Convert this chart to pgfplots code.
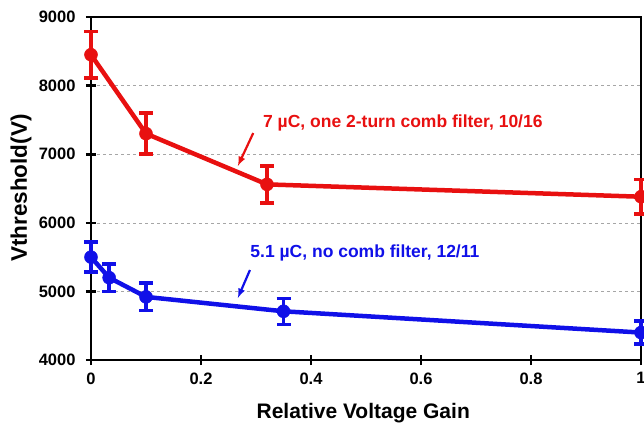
\documentclass[border=0pt]{standalone}
\usepackage{pgfplots}
\pgfplotsset{compat=1.18}
\usepackage{fontspec}
\setmainfont{Liberation Sans}
\definecolor{myred}{RGB}{232,16,16}
\definecolor{myblue}{RGB}{16,16,232}
\begin{document}
\begin{tikzpicture}
\path[use as bounding box] (-91pt,-63pt) rectangle (553pt,360pt);
\begin{axis}[
  scale only axis, width=550pt, height=343pt,
  xmin=0, xmax=1, ymin=4000, ymax=9000,
  xtick={0,0.2,0.4,0.6,0.8,1}, ytick={4000,5000,6000,7000,8000,9000},
  xticklabels={0,0.2,0.4,0.6,0.8,1},
  /pgf/number format/set thousands separator={},
  /pgf/number format/assume math mode=true,
  tick label style={font=\fontsize{16.5}{16.5}\selectfont\bfseries},
  xticklabel style={yshift=-4pt},
  yticklabel style={xshift=-7pt},
  xlabel={\fontsize{21}{21}\selectfont\bfseries Relative Voltage Gain},
  ylabel={\fontsize{22.5}{22.5}\selectfont\bfseries Vthreshold(V)},
  xlabel style={at={(axis description cs:0.495,-0.155)}, anchor=center},
  ylabel style={at={(axis description cs:-0.127,0.501)}, anchor=center},
  axis line style={line width=2.6pt},
  tick style={line width=2.6pt, black},
  major tick length=10pt, tick align=center,
  xtick pos=left, ytick pos=left,
  ymajorgrids, grid style={dashed, gray!70, line width=0.6pt},
  clip=false,
]
\addplot[myred, line width=4.5pt, mark=*, mark size=6.5pt, mark options={line width=0.5pt},
  error bars/.cd, y dir=both, y explicit,
  error bar style={line width=3.5pt, myred},
  error mark options={rotate=90, mark size=7pt, line width=3.5pt, myred}]
  coordinates {
  (0,8450) +- (0,340)
  (0.1,7300) +- (0,300)
  (0.32,6560) +- (0,270)
  (1,6380) +- (0,250)
  };
\addplot[myblue, line width=4.5pt, mark=*, mark size=6.5pt, mark options={line width=0.5pt},
  error bars/.cd, y dir=both, y explicit,
  error bar style={line width=3.5pt, myblue},
  error mark options={rotate=90, mark size=7pt, line width=3.5pt, myblue}]
  coordinates {
  (0,5500) +- (0,220)
  (0.033,5200) +- (0,200)
  (0.1,4920) +- (0,200)
  (0.35,4710) +- (0,190)
  (1,4400) +- (0,170)
  };
\node[myred, font=\fontsize{17.5}{17.5}\selectfont\bfseries] at (axis cs:0.567,7455) {7 µC, one 2-turn comb filter, 10/16};
\node[myblue, font=\fontsize{17.5}{17.5}\selectfont\bfseries] at (axis cs:0.498,5560) {5.1 µC, no comb filter, 12/11};
\draw[myred, line width=2.2pt, -latex] (axis cs:0.295,7309) -- (axis cs:0.267,6828);
\draw[myblue, line width=2.2pt, -latex] (axis cs:0.289,5312) -- (axis cs:0.267,4904);
\end{axis}
\end{tikzpicture}
\end{document}
